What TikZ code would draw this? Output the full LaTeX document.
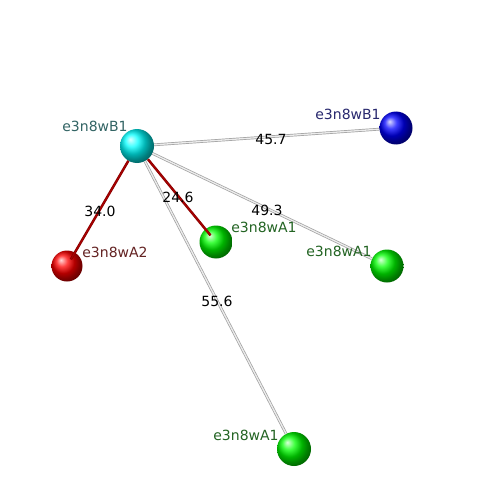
\documentclass[tikz,border=0pt]{standalone}
\usepackage{fontspec}
\setmainfont{DejaVu Sans}
\definecolor{labteal}{RGB}{50,100,100}
\definecolor{labblue}{RGB}{40,40,110}
\definecolor{labred}{RGB}{100,35,35}
\definecolor{labgreen}{RGB}{35,100,35}
\definecolor{edgered}{RGB}{170,0,0}
\tikzset{
  sphere/.style={circle, inner sep=0pt, minimum size=#1, shading=ball},
  atomlab/.style={font=\fontsize{14}{14}\selectfont, inner sep=0pt},
  distlab/.style={font=\fontsize{14}{14}\selectfont, inner sep=0pt, text=black},
  grayedge/.style={draw=gray!75, line width=0.7pt, double=gray!15, double distance=1.3pt},
  rededge/.style={draw=edgered!80!black, line width=0.7pt, double=edgered, double distance=1.1pt}
}
\begin{document}
\begin{tikzpicture}[x=1pt,y=-1pt]
\useasboundingbox[fill=white] (0,0) rectangle (500,500);
% spheres
\node[sphere=34, ball color=cyan] (c) at (137,146) {};
\node[sphere=33, ball color=blue] (bl) at (396,128) {};
\node[sphere=31, ball color=red] (r) at (67,266) {};
\node[sphere=33, ball color=green] (g1) at (216,242) {};
\node[sphere=33, ball color=green] (g2) at (387,266) {};
\node[sphere=34, ball color=green] (g3) at (294,449) {};
% connectors
\draw[grayedge] (c) -- (bl);
\draw[grayedge] (c) -- (g2);
\draw[grayedge] (c) -- (g3);
\draw[rededge, shorten >=-8pt] (c) -- (r);
\draw[rededge, shorten >=-8pt] (c) -- (g1);
% atom labels
\node[atomlab, text=labteal] (lc) at (95,126) {e3n8wB1};
\node[atomlab, text=labblue] (lbl) at (348,114) {e3n8wB1};
\node[atomlab, text=labred] (lr) at (115,252) {e3n8wA2};
\node[atomlab, text=labgreen] (lg1) at (264,227) {e3n8wA1};
\node[atomlab, text=labgreen] (lg2) at (339,251) {e3n8wA1};
\node[atomlab, text=labgreen] (lg3) at (246,435) {e3n8wA1};
% distance labels
\node[distlab] (d1) at (271,139) {45.7};
\node[distlab] (d2) at (100,211) {34.0};
\node[distlab] (d3) at (178,197) {24.6};
\node[distlab] (d4) at (267,210) {49.3};
\node[distlab] (d5) at (217,301) {55.6};
\end{tikzpicture}
\end{document}
